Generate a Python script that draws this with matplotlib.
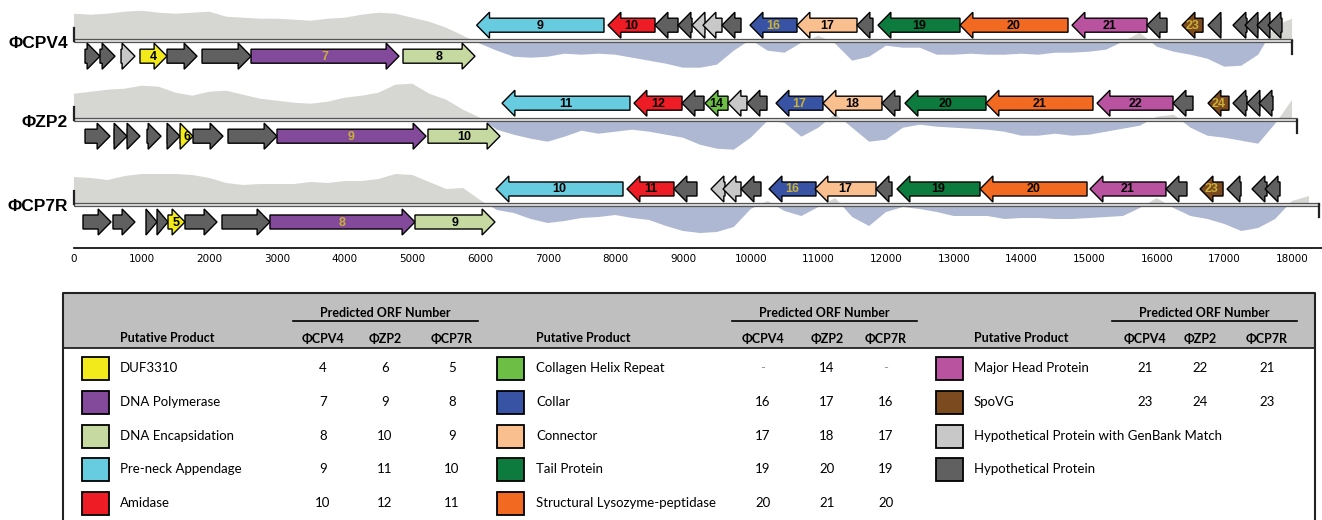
import numpy as np
import matplotlib.pyplot as plt
from matplotlib.patches import Polygon, Rectangle

# ---- data -------------------------------------------------------------
STEP = 250  # skew sampled every 250 bp (values in plot units, + = up)

cpv4_skew = [27, 26, 27, 29, 30, 28, 27, 28, 29, 24, 23, 22, 22, 21, 20, 22, 23, 26, 28, 27,
             23, 19, 13, 5, -3, -10, -16, -17, -16, -13, -14, -13, -14, -17, -20, -23, -27, -27,
             -24, -10, 1, -10, -12, -2, 5, -3, -20, -16, -5, -7, -7, -14, -14, -13, -14, -14,
             -13, -14, -12, -12, -11, -9, -1, 8, -6, -11, -14, -18, -26, -25, -14, 15, 22]
zp2_skew = [26, 28, 30, 31, 34, 33, 27, 24, 28, 29, 25, 21, 19, 17, 16, 18, 22, 24, 27, 35,
            36, 26, 20, 10, 2, -10, -15, -19, -22, -17, -11, -14, -12, -10, -12, -15, -18, -25,
            -29, -30, -18, -1, -3, -17, -8, 6, -8, -22, -20, -8, -5, -7, -8, -9, -10, -12, -16,
            -16, -14, -16, -15, -12, -9, -6, 3, 5, -8, -16, -18, -21, -24, -4, 20]
cp7r_skew = [27, 26, 24, 28, 30, 30, 30, 29, 26, 21, 19, 20, 20, 20, 22, 21, 23, 23, 25, 30,
             29, 22, 15, 16, 4, -6, -9, -15, -19, -17, -14, -13, -11, -14, -16, -22, -27, -29,
             -28, -23, -5, 3, -7, -12, -3, 6, -13, -22, -8, -3, -5, -8, -12, -12, -12, -15, -14,
             -14, -15, -15, -14, -13, -12, -4, 6, -4, -12, -15, -20, -27, -24, -15, 3, 8]

genome_names = ['\u03a6CPV4', '\u03a6ZP2', '\u03a6CP7R']
genome_lengths = [18000, 18070, 18400]

# (start, end, strand, category, label)
cpv4_genes = [
    (163, 384, 1, 'hyp', ''), (384, 606, 1, 'hyp', ''), (695, 901, 1, 'hm', ''),
    (975, 1374, 1, 'duf', '4'), (1374, 1818, 1, 'hyp', ''), (1892, 2616, 1, 'hyp', ''),
    (2616, 4803, 1, 'pol', '7'), (4862, 5926, 1, 'enc', '8'),
    (5950, 7832, -1, 'neck', '9'), (7891, 8586, -1, 'ami', '10'), (8586, 8926, -1, 'hyp', ''),
    (8926, 9133, -1, 'hyp', ''), (9133, 9325, -1, 'hm', ''), (9295, 9576, -1, 'hm', ''),
    (9576, 9857, -1, 'hyp', ''), (9990, 10684, -1, 'collar', '16'), (10684, 11571, -1, 'conn', '17'),
    (11571, 11807, -1, 'hyp', ''), (11881, 13093, -1, 'tail', '19'), (13093, 14689, -1, 'lys', '20'),
    (14748, 15857, -1, 'head', '21'), (15857, 16152, -1, 'hyp', ''), (16374, 16684, -1, 'spovg', '23'),
    (16758, 16950, -1, 'hyp', ''), (17127, 17334, -1, 'hyp', ''), (17305, 17497, -1, 'hyp', ''),
    (17482, 17674, -1, 'hyp', ''), (17645, 17851, -1, 'hyp', ''),
]
zp2_genes = [
    (163, 532, 1, 'hyp', ''), (591, 783, 1, 'hyp', ''), (783, 975, 1, 'hyp', ''),
    (1079, 1286, 1, 'hyp', ''), (1374, 1566, 1, 'hyp', ''), (1566, 1759, 1, 'duf', '6'),
    (1759, 2202, 1, 'hyp', ''), (2276, 3000, 1, 'hyp', ''), (3000, 5202, 1, 'pol', '9'),
    (5231, 6295, 1, 'enc', '10'),
    (6325, 8216, -1, 'neck', '11'), (8275, 8985, -1, 'ami', '12'), (8985, 9310, -1, 'hyp', ''),
    (9325, 9665, -1, 'col', '14'), (9665, 9945, -1, 'hm', ''), (9945, 10241, -1, 'hyp', ''),
    (10374, 11068, -1, 'collar', '17'), (11068, 11940, -1, 'conn', '18'), (11940, 12206, -1, 'hyp', ''),
    (12280, 13477, -1, 'tail', '20'), (13477, 15058, -1, 'lys', '21'), (15118, 16241, -1, 'head', '22'),
    (16241, 16536, -1, 'hyp', ''), (16758, 17068, -1, 'spovg', '24'), (17127, 17334, -1, 'hyp', ''),
    (17334, 17526, -1, 'hyp', ''), (17512, 17718, -1, 'hyp', ''),
]
cp7r_genes = [
    (133, 547, 1, 'hyp', ''), (576, 901, 1, 'hyp', ''), (1064, 1227, 1, 'hyp', ''),
    (1227, 1389, 1, 'hyp', ''), (1389, 1640, 1, 'duf', '5'), (1640, 2113, 1, 'hyp', ''),
    (2187, 2896, 1, 'hyp', ''), (2896, 5039, 1, 'pol', '8'), (5039, 6221, 1, 'enc', '9'),
    (6236, 8113, -1, 'neck', '10'), (8172, 8866, -1, 'ami', '11'), (8866, 9206, -1, 'hyp', ''),
    (9413, 9620, -1, 'hm', ''), (9591, 9857, -1, 'hm', ''), (9857, 10152, -1, 'hyp', ''),
    (10271, 10965, -1, 'collar', '16'), (10950, 11852, -1, 'conn', '17'), (11852, 12088, -1, 'hyp', ''),
    (12162, 13389, -1, 'tail', '19'), (13389, 14970, -1, 'lys', '20'), (15014, 16137, -1, 'head', '21'),
    (16137, 16447, -1, 'hyp', ''), (16640, 16980, -1, 'spovg', '23'), (17039, 17246, -1, 'hyp', ''),
    (17408, 17630, -1, 'hyp', ''), (17601, 17822, -1, 'hyp', ''),
]

colors = {
    'duf': '#F2EA1B', 'pol': '#83499A', 'enc': '#C6D9A0', 'neck': '#67CCDF', 'ami': '#EE1C25',
    'col': '#6DBE45', 'collar': '#3953A4', 'conn': '#FABF8F', 'tail': '#0E7B3E', 'lys': '#F26A21',
    'head': '#B953A0', 'spovg': '#7B4A1E', 'hm': '#C8C8C8', 'hyp': '#606060',
}
gold_labels = ['pol', 'collar', 'spovg']

# legend table
table_cats = [['duf', 'pol', 'enc', 'neck', 'ami'],
              ['col', 'collar', 'conn', 'tail', 'lys'],
              ['head', 'spovg', 'hm', 'hyp']]
table_products = [['DUF3310', 'DNA Polymerase', 'DNA Encapsidation', 'Pre-neck Appendage', 'Amidase'],
                  ['Collagen Helix Repeat', 'Collar', 'Connector', 'Tail Protein',
                   'Structural Lysozyme-peptidase'],
                  ['Major Head Protein', 'SpoVG', 'Hypothetical Protein with GenBank Match',
                   'Hypothetical Protein']]
orf_cpv4 = [['4', '7', '8', '9', '10'], ['-', '16', '17', '19', '20'], ['21', '23', '', '']]
orf_zp2 = [['6', '9', '10', '11', '12'], ['14', '17', '18', '20', '21'], ['22', '24', '', '']]
orf_cp7r = [['5', '8', '9', '10', '11'], ['-', '16', '17', '19', '20'], ['21', '23', '', '']]

# ---- figure -----------------------------------------------------------
W, H = 1322, 520
fig = plt.figure(figsize=(W / 100, H / 100), dpi=100)

# genome map axes: x in bp, y in pixel rows (0..270, top-down)
bp_per_px = 1 / 0.06767
ax = fig.add_axes([0, 1 - 270 / H, 1, 270 / H])
ax.set_xlim(-74 * bp_per_px, (W - 74) * bp_per_px)
ax.set_ylim(270, 0)
ax.axis('off')

baselines = [40.7, 119.7, 204]
fwd_off = [15.5, 16.5, 18]
rev_off = [15.5, 16.5, 15]
all_skew = [cpv4_skew, zp2_skew, cp7r_skew]
all_genes = [cpv4_genes, zp2_genes, cp7r_genes]
HEAD = 190


def arrow_pts(start, end, strand, yc, bh=7, hh=13):
    hl = min(HEAD, end - start)
    if strand == 1:
        tail, tip, nb = start, end, end - hl
    else:
        tail, tip, nb = end, start, start + hl
    if end - start <= HEAD:
        return [(tail, yc - hh), (tip, yc), (tail, yc + hh)]
    return [(tail, yc - bh), (nb, yc - bh), (nb, yc - hh), (tip, yc),
            (nb, yc + hh), (nb, yc + bh), (tail, yc + bh)]


for i, (name, length, base, skew, genes) in enumerate(
        zip(genome_names, genome_lengths, baselines, all_skew, all_genes)):
    xs = np.minimum(np.arange(len(skew)) * STEP, length)
    sk = np.array(skew, dtype=float)
    ax.fill_between(xs, base, base - sk, where=sk >= 0, interpolate=True,
                    color='#D6D7D3', lw=0, zorder=1)
    ax.fill_between(xs, base, base - sk, where=sk <= 0, interpolate=True,
                    color='#AEB8D2', lw=0, zorder=1)
    ax.add_patch(Rectangle((0, base - 1.5), length, 3, facecolor='#E2E2E2',
                           edgecolor='#555555', lw=0.9, zorder=2))
    ax.plot([0, 0], [base, base - 13], color='#222222', lw=1.6, zorder=2)
    ax.plot([length, length], [base, base + 13], color='#222222', lw=1.6, zorder=2)
    ax.text(-89, base + 2.5, name, ha='right', va='center', fontsize=12.5,
            fontweight='bold', family='Liberation Sans')

    for start, end, strand, cat, lab in genes:
        yc = base + (fwd_off[i] if strand == 1 else -rev_off[i])
        ax.add_patch(Polygon(arrow_pts(start, end, strand, yc), closed=True,
                             facecolor=colors[cat], edgecolor='black',
                             lw=1.0, joinstyle='miter', zorder=3))
        if lab:
            tc = '#C9B037' if cat in gold_labels else 'black'
            ax.text((start + end) / 2, yc + 0.5, lab, ha='center', va='center', fontsize=9,
                    fontweight='bold', color=tc, family='Liberation Sans', zorder=4)

# scale axis
ax.plot([0, (W - 74) * bp_per_px], [248, 248], color='black', lw=1.2)
for t in range(0, 18001, 1000):
    ax.text(t, 258.5, str(t), ha='center', va='center', fontsize=7.5, family='DejaVu Sans')

# ---- legend table (pixel coordinates) ---------------------------------
tx = fig.add_axes([0, 0, 1, 250 / H])
tx.set_xlim(0, W)
tx.set_ylim(H, 270)
tx.axis('off')

tx.add_patch(Rectangle((63, 293), 1315 - 63, 55, facecolor='#BFBFBF', edgecolor='none'))
tx.plot([63, 63, 1315, 1315], [H + 5, 293, 293, H + 5], color='#222222', lw=1.5, clip_on=False)
tx.plot([63, 1315], [348, 348], color='#222222', lw=1.3)

tfont = 'Lato'
col_x = [(82, 120, [323, 385, 452], (293, 478)),
         (497, 536, [763, 827, 886], (732, 917)),
         (936, 974, [1145, 1200, 1267], (1112, 1297))]
row_y = [368, 402, 436, 469, 503]

for c, (sx, lx, nx, (u0, u1)) in enumerate(col_x):
    tx.plot([u0, u1], [321, 321], color='black', lw=1.2)
    tx.text((u0 + u1) / 2, 313, 'Predicted ORF Number', ha='center', va='center',
            fontsize=9, fontweight='bold', family=tfont)
    tx.text(lx, 338.5, 'Putative Product', ha='left', va='center', fontsize=9,
            fontweight='bold', family=tfont)
    for xx, nm in zip(nx, genome_names):
        tx.text(xx, 338.5, nm, ha='center', va='center', fontsize=9, fontweight='bold',
                family=tfont)
    for r, cat in enumerate(table_cats[c]):
        y = row_y[r]
        tx.add_patch(Rectangle((sx, y - 11.5), 27, 23, facecolor=colors[cat],
                               edgecolor='black', lw=1.3))
        tx.text(lx, y, table_products[c][r], ha='left', va='center', fontsize=9.5,
                family=tfont)
        for xx, vals in zip(nx, [orf_cpv4, orf_zp2, orf_cp7r]):
            v = vals[c][r]
            if v:
                tx.text(xx, y, v, ha='center', va='center', fontsize=9.5, family=tfont,
                        color='#999999' if v == '-' else 'black')

fig.savefig('out.png', dpi=100)
